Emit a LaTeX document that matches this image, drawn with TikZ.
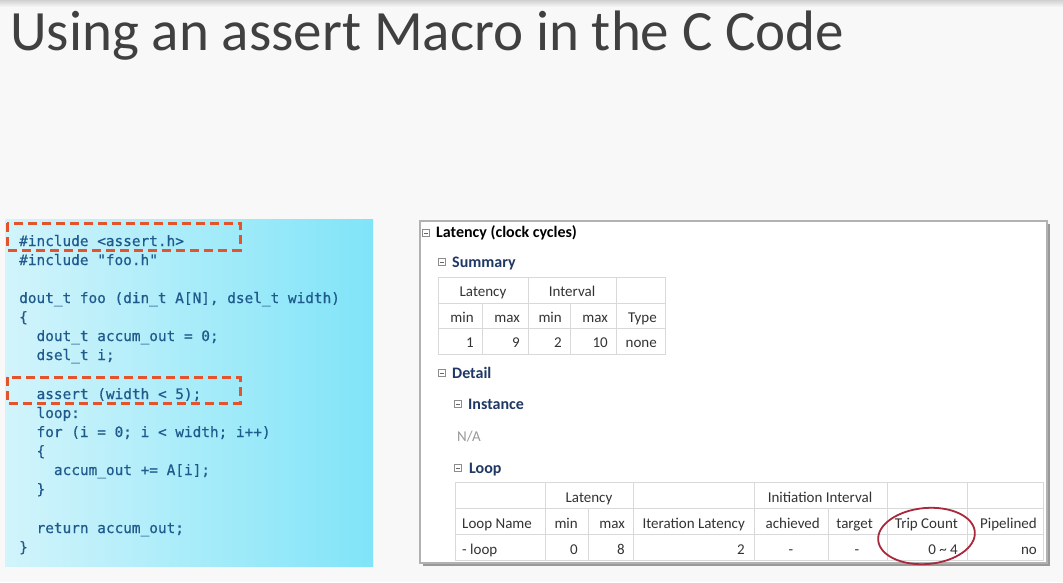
\documentclass[tikz,border=0pt]{standalone}
\usepackage{fontspec}
\setmainfont{Carlito}
\newfontfamily\codefont[FakeBold=0.6]{DejaVu Sans Mono}
\usetikzlibrary{positioning}
\definecolor{codeblue}{HTML}{1F5A8C}
\definecolor{hired}{HTML}{E4532B}
\definecolor{navy}{HTML}{1F3864}
\definecolor{celltext}{HTML}{333333}
\definecolor{ringred}{HTML}{A8283C}
\definecolor{cyanL}{HTML}{D2F4FB}
\definecolor{cyanR}{HTML}{80E4F8}
\definecolor{bgcol}{HTML}{F8F8F8}
\newcommand{\us}{\char`\_}
\tikzset{
    title/.style={
           anchor=base west,
           inner sep=0pt,
           text=black!75,
           font=\fontsize{57}{64}\selectfont
           },
    code/.style={
           anchor=base west,
           inner sep=0pt,
           text=codeblue,
           font=\codefont\fontsize{14.4}{17}\selectfont
           },
    hilite/.style={
           draw=hired,
           line width=3pt,
           dash pattern=on 9pt off 5pt
           },
    tog/.style={
           draw=black!45,
           minimum size=7pt,
           inner sep=0pt,
           path picture={\draw[black!60] ([xshift=1.5pt]path picture bounding box.west) -- ([xshift=-1.5pt]path picture bounding box.east);}
           },
    head/.style={
           anchor=base west,
           inner sep=0pt,
           font=\bfseries\fontsize{16}{19}\selectfont
           },
    subhead/.style={
           head,
           text=navy
           },
    grid/.style={
           draw=black!15,
           line width=0.8pt
           },
    cell/.style={
           anchor=base east,
           inner sep=0pt,
           text=celltext,
           font=\fontsize{15}{18}\selectfont
           },
    lcell/.style={cell, anchor=base west},
    ccell/.style={cell, anchor=base},
    ring/.style={
           draw=ringred,
           line width=1.8pt
           },
}

\begin{document}
\begin{tikzpicture}[x=1pt, y=-1pt]
   \useasboundingbox (0,0) rectangle (1063,582);
   \fill[bgcol] (0,0) rectangle (1063,582);
   \shade[top color=black!18, bottom color=bgcol] (0,0) rectangle (1063,7);

   \node[title] (title) at (10,50) {Using an assert Macro in the C Code};

   % code panel
   \shade[left color=cyanL, right color=cyanR] (5,219) rectangle (373,566);
   \node[code] (c0)  at (19,246)   {\#include <assert.h>};
   \node[code] (c1)  at (19,265)   {\#include "foo.h"};
   \node[code] (c3)  at (19,303)   {dout\us t foo (din\us t A[N], dsel\us t width)};
   \node[code] (c4)  at (19,322)   {\{};
   \node[code] (c5)  at (36.4,341) {dout\us t accum\us out = 0;};
   \node[code] (c6)  at (36.4,360) {dsel\us t i;};
   \node[code] (c8)  at (36.4,399) {assert (width < 5);};
   \node[code] (c9)  at (36.4,418) {loop:};
   \node[code] (c10) at (36.4,437) {for (i = 0; i < width; i++)};
   \node[code] (c11) at (36.4,456) {\{};
   \node[code] (c12) at (53.8,475) {accum\us out += A[i];};
   \node[code] (c13) at (36.4,494) {\}};
   \node[code] (c15) at (36.4,533) {return accum\us out;};
   \node[code] (c16) at (19,552)   {\}};
   \draw[hilite] (7,223) rectangle (240,250);
   \draw[hilite] (7,377) rectangle (240,403);

   % report panel
   \fill[black!40] (423,224) rectangle (1050,566);
   \filldraw[fill=white, draw=black!30, line width=1.2pt] (420,221) rectangle (1047,563);

   \node[tog] (t0) at (426,233) {};
   \node[head] (h0) at (436,237) {Latency (clock cycles)};
   \node[tog] (t1) at (442,262) {};
   \node[subhead] (h1) at (452,267) {Summary};

   \draw[grid] (438,277) rectangle (665,354);
   \draw[grid] (438,303) -- (665,303) (438,328) -- (665,328);
   \draw[grid] (528,277) -- (528,354) (616,277) -- (616,354)
               (482,303) -- (482,354) (570,303) -- (570,354);
   \node[ccell] (s0) at (483,296) {Latency};
   \node[ccell] (s1) at (572,296) {Interval};
   \node[cell] (s2) at (474,322) {min};
   \node[cell] (s3) at (520,322) {max};
   \node[cell] (s4) at (562,322) {min};
   \node[cell] (s5) at (608,322) {max};
   \node[cell] (s6) at (657,322) {Type};
   \node[cell] (s7) at (474,347) {1};
   \node[cell] (s8) at (520,347) {9};
   \node[cell] (s9) at (562,347) {2};
   \node[cell] (s10) at (608,347) {10};
   \node[cell] (s11) at (657,347) {none};

   \node[tog] (t2) at (442,373) {};
   \node[subhead] (h2) at (452,378) {Detail};
   \node[tog] (t3) at (458,404) {};
   \node[subhead] (h3) at (468,409) {Instance};
   \node[lcell, text=black!40] (na) at (457,441) {N/A};
   \node[tog] (t4) at (458,468) {};
   \node[subhead] (h4) at (469,473) {Loop};

   \draw[grid] (455,482) rectangle (1043,560);
   \draw[grid] (455,508) -- (1043,508) (455,534) -- (1043,534);
   \draw[grid] (545,482) -- (545,560) (633,482) -- (633,560) (754,482) -- (754,560)
               (887,482) -- (887,560) (967,482) -- (967,560)
               (588,508) -- (588,560) (828,508) -- (828,560);
   \node[ccell] (l0) at (589,502) {Latency};
   \node[ccell] (l1) at (820,502) {Initiation Interval};
   \node[lcell] (l2) at (462,528) {Loop Name};
   \node[cell] (l3) at (578,528) {min};
   \node[cell] (l4) at (625,528) {max};
   \node[cell] (l5) at (745,528) {Iteration Latency};
   \node[cell] (l6) at (820,528) {achieved};
   \node[cell] (l7) at (873,528) {target};
   \node[cell] (l8) at (958,528) {Trip Count};
   \node[cell] (l9) at (1037,528) {Pipelined};
   \node[lcell] (l10) at (462,554) {- loop};
   \node[cell] (l11) at (578,554) {0};
   \node[cell] (l12) at (625,554) {8};
   \node[cell] (l13) at (745,554) {2};
   \node[ccell] (l14) at (791,554) {-};
   \node[ccell] (l15) at (857,554) {-};
   \node[cell] (l16) at (958,554) {0 \char`\~{} 4};
   \node[cell] (l17) at (1037,554) {no};

   \draw[ring, rotate around={5:(926.5,536)}] (926.5,536) ellipse [x radius=48.5, y radius=28];
\end{tikzpicture}
\end{document}
